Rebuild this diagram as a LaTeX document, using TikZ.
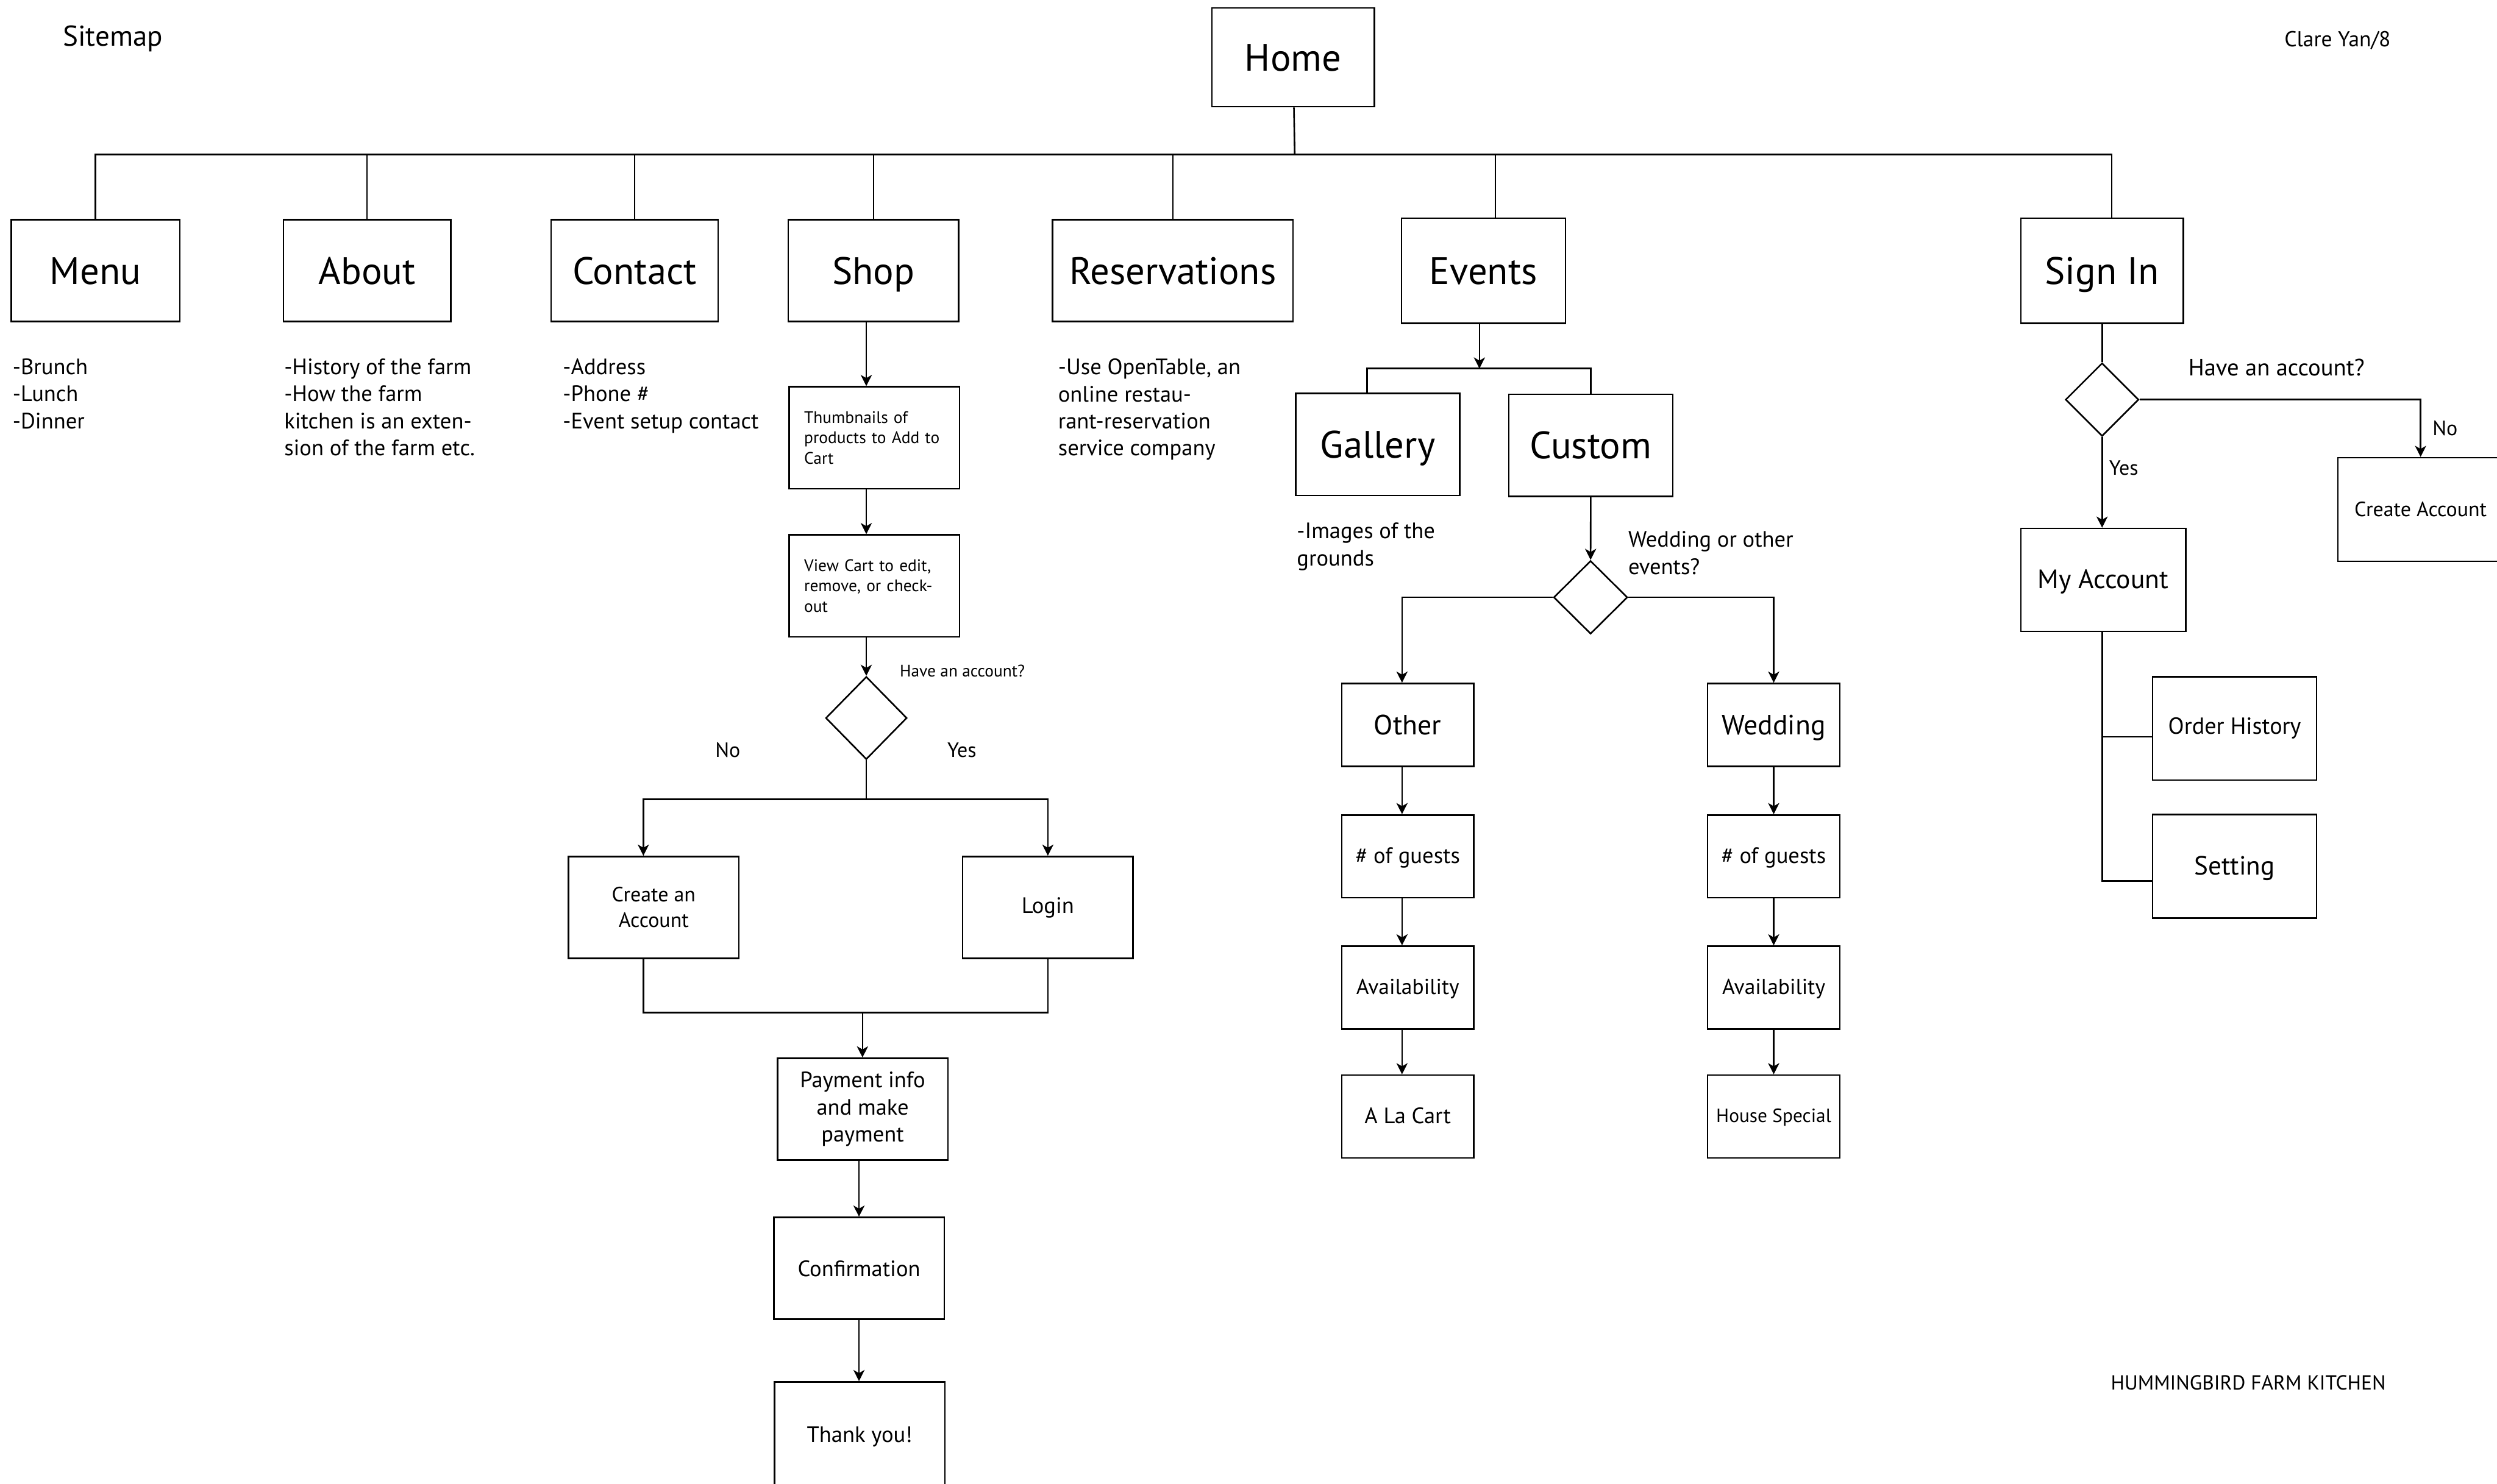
\documentclass[tikz,border=0pt]{standalone}
\usepackage{fontspec}
\setmainfont{PT Sans}
\usetikzlibrary{shapes.geometric,arrows.meta}
\newcommand{\fsz}[2]{\fontsize{#1}{#2}\selectfont}
\begin{document}
\begin{tikzpicture}[x=1pt,y=-1pt,line width=1pt,
		box/.style={draw,inner sep=0pt,align=center},
		topbox/.style={box,minimum height=64,font=\fsz{24}{28},text height=17pt,text depth=0pt},
		shopbox/.style={box,minimum width=107,minimum height=64,font=\fsz{14}{17}},
		evbox/.style={box,minimum width=83,minimum height=52,text depth=1pt},
		dec/.style={draw,diamond,inner sep=0pt},
		note/.style={anchor=north west,inner sep=0pt,align=left},
		lbl/.style={inner sep=0pt}]
	\clip (0,0) rectangle (1568,932);
	\tikzset{arr/.style={-{Stealth[length=7pt,width=7pt,inset=2pt]}}}
	\node[lbl,anchor=base west,font=\fsz{18}{20}] (title) at (39,29) {Sitemap};
	\node[lbl,anchor=base west,font=\fsz{13.6}{16}] (author) at (1434,29.2) {Clare Yan/8};
	\node[lbl,anchor=base west,font=\fsz{12.8}{14}] (brand) at (1325,872.9) {HUMMINGBIRD FARM KITCHEN};
	% top level
	\node[topbox,minimum width=102,minimum height=62] (home) at (812,36) {Home};
	\node[topbox,minimum width=106] (menu) at (60,170) {Menu};
	\node[topbox,minimum width=105] (about) at (230.5,170) {About};
	\node[topbox,minimum width=105] (contact) at (398.5,170) {Contact};
	\node[topbox,minimum width=107] (shop) at (548.5,170) {Shop};
	\node[topbox,minimum width=151] (reserv) at (736.5,170) {Reservations};
	\node[topbox,minimum width=103,minimum height=66] (events) at (931.5,170) {Events};
	\node[topbox,minimum width=102,minimum height=66] (signin) at (1320,170) {Sign In};
	\coordinate (bus) at (813,97);
	\draw (home) -- (bus);
	\foreach \n in {menu,about,contact,shop,reserv}
		\draw (\n.north) |- (bus);
	\draw ([xshift=7.5pt]events.north) |- (bus);
	\draw ([xshift=6pt]signin.north) |- (bus);
	% notes
	\node[note,font=\fsz{14}{17}] (menunote) at (7.5,224.8) {-Brunch\\-Lunch\\-Dinner};
	\node[note,font=\fsz{14}{17}] (aboutnote) at (178,224.8) {-History of the farm\\-How the farm\\kitchen is an exten-\\sion of the farm etc.};
	\node[note,font=\fsz{14}{17}] (contactnote) at (353,224.8) {-Address\\-Phone \#\\-Event setup contact};
	\node[note,font=\fsz{14}{17}] (reservnote) at (664,224.8) {-Use OpenTable, an\\online restau-\\rant-reservation\\service company};
	% shop
	\coordinate (sx) at (544,0);
	\node[shopbox,align=left,text width=88,inner xsep=9.5pt,font=\fsz{10.5}{12.8}] (thumbs) at (549,275) {Thumbnails of\\products to Add to\\Cart};
	\node[shopbox,align=left,text width=88,inner xsep=9.5pt,font=\fsz{10.5}{12.8}] (cart) at (549,368) {View Cart to edit,\\remove, or check-\\out};
	\node[dec,minimum width=51,minimum height=52] (sdec) at (544,451) {};
	\draw[arr] (shop.south -| sx) -- (thumbs.north -| sx);
	\draw[arr] (thumbs.south -| sx) -- (cart.north -| sx);
	\draw[arr] (cart.south -| sx) -- (sdec.north);
	\node[lbl,anchor=west,font=\fsz{10.5}{12}] (sq) at (564.6,421.5) {Have an account?};
	\node[lbl,font=\fsz{13}{15}] (sno) at (457,471) {No};
	\node[lbl,font=\fsz{13}{15}] (syes) at (604,471) {Yes};
	\node[shopbox,font=\fsz{13}{16}] (create) at (410.5,570) {Create an\\Account};
	\node[shopbox] (login) at (658,570) {Login};
	\coordinate (split) at (544,502);
	\coordinate (cx) at (404,0);
	\draw (sdec.south) -- (split);
	\draw[arr] (split) -| (create.north -| cx);
	\draw[arr] (split) -| (login.north);
	\coordinate (join) at (541.6,636);
	\node[shopbox] (pay) at (541.7,696.7) {Payment info\\and make\\payment};
	\node[shopbox] (conf) at (539.4,796.7) {Confirmation};
	\node[shopbox,minimum height=69] (thanks) at (539.8,902.5) {Thank you!};
	\draw (create.south -| cx) |- (join);
	\draw (login.south) |- (join);
	\draw[arr] (join) -- (pay.north -| join);
	\draw[arr] (pay.south -| conf) -- (conf.north);
	\draw[arr] (conf.south) -- (thanks.north -| conf);
	% events
	\coordinate (ej) at (929,231.5);
	\node[topbox,minimum width=103] (gallery) at (865.2,279.2) {Gallery};
	\node[topbox,minimum width=103] (custom) at (998.9,279.7) {Custom};
	\draw[arr] (events.south -| ej) -- (ej);
	\draw ([xshift=-6.8pt]gallery.north) |- (ej);
	\draw (custom.north) |- (ej);
	\node[note,font=\fsz{14}{17}] (imgnote) at (813.9,328) {-Images of the\\grounds};
	\node[dec,minimum width=46.4,minimum height=46] (edec) at (998.8,375.2) {};
	\draw[arr] (custom.south) -- (edec.north);
	\node[note,font=\fsz{14}{17.5}] (eq) at (1022,333) {Wedding or other\\events?};
	\coordinate (ox) at (880.4,0);
	\node[evbox,font=\fsz{17.5}{20},text depth=-3pt] (other) at (884,455.3) {Other};
	\node[evbox,font=\fsz{14}{16}] (oguest) at (884,537.9) {\# of guests};
	\node[evbox,font=\fsz{13.6}{16}] (oavail) at (884,620.3) {Availability};
	\node[evbox,font=\fsz{14}{16}] (ocart) at (884,701.3) {A La Cart};
	\node[evbox,font=\fsz{17.5}{20},text depth=-3pt] (wedding) at (1113.8,455.3) {Wedding};
	\node[evbox,font=\fsz{14}{16}] (wguest) at (1113.8,537.9) {\# of guests};
	\node[evbox,font=\fsz{13.6}{16}] (wavail) at (1113.8,620.3) {Availability};
	\node[evbox,font=\fsz{12}{14}] (wspecial) at (1113.8,701.3) {House Special};
	\draw[arr] (edec.west) -| (other.north -| ox);
	\draw[arr] (edec.east) -| (wedding.north);
	\foreach \a/\b in {other/oguest,oguest/oavail,oavail/ocart}
		\draw[arr] (\a.south -| ox) -- (\b.north -| ox);
	\foreach \a/\b in {wedding/wguest,wguest/wavail,wavail/wspecial}
		\draw[arr] (\a.south) -- (\b.north);
	% sign in
	\node[dec,minimum width=46,minimum height=46] (idec) at (1320,251) {};
	\draw (signin.south) -- (idec.north);
	\node[lbl,anchor=west,font=\fsz{14.8}{17}] (iq) at (1373.7,231) {Have an account?};
	\node[box,minimum width=104,minimum height=65,font=\fsz{13}{15}] (newacc) at (1520,320) {Create Account};
	\draw[arr] (idec.east) -| (newacc.north);
	\node[lbl,anchor=west,font=\fsz{13}{15}] (ino) at (1527,269) {No};
	\node[lbl,anchor=west,font=\fsz{13}{15}] (iyes) at (1324,294) {Yes};
	\node[box,minimum width=103.5,minimum height=64.7,font=\fsz{16.7}{19},text depth=1pt] (myacc) at (1320.7,364.3) {My Account};
	\draw[arr] (idec.south) -- (myacc.north -| idec);
	\node[box,minimum width=103,minimum height=65,font=\fsz{14.6}{17}] (ohist) at (1403.2,457.5) {Order History};
	\node[box,minimum width=103,minimum height=65,font=\fsz{16.5}{19},text depth=1pt] (setting) at (1403.2,544.1) {Setting};
	\coordinate (oh) at (1320,462.8);
	\draw (myacc.south -| oh) |- ([yshift=-9.3pt]setting.west);
	\draw (oh) -- (oh -| ohist.west);
\end{tikzpicture}
\end{document}
